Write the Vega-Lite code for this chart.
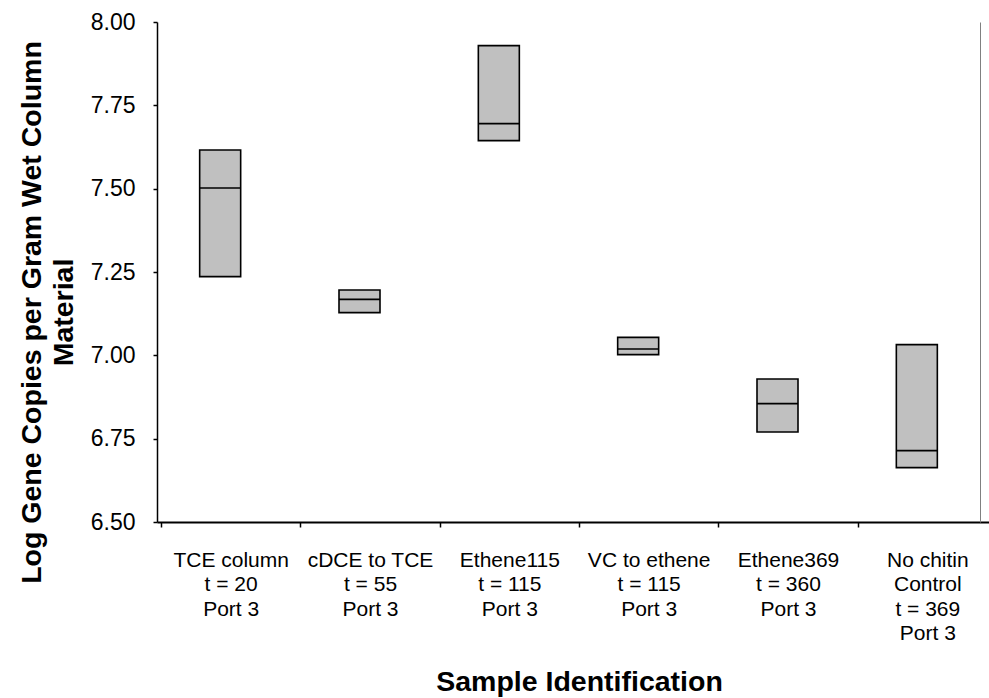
{
  "$schema": "https://vega.github.io/schema/vega-lite/v6.json",
  "autosize": {"type": "none"},
  "padding": {"left": 157, "top": 22, "right": 9, "bottom": 176},
  "width": 823,
  "height": 500,
  "background": "white",
  "config": {"view": {"stroke": null}, "font": "Liberation Sans"},
  "data": {
    "values": [
      {"sample": "TCE column|t = 20|Port 3", "low": 7.236, "median": 7.502, "high": 7.616},
      {"sample": "cDCE to TCE|t = 55|Port 3", "low": 7.128, "median": 7.168, "high": 7.196},
      {"sample": "Ethene115|t = 115|Port 3", "low": 7.644, "median": 7.695, "high": 7.929},
      {"sample": "VC to ethene|t = 115|Port 3", "low": 7.002, "median": 7.019, "high": 7.054},
      {"sample": "Ethene369|t = 360|Port 3", "low": 6.770, "median": 6.855, "high": 6.929},
      {"sample": "No chitin|Control|t = 369|Port 3", "low": 6.663, "median": 6.714, "high": 7.032}
    ]
  },
  "layer": [
    {
      "mark": {"type": "bar", "fill": "#c0c0c0", "stroke": "black", "strokeWidth": 1.6, "width": 41, "xOffset": -10.5},
      "encoding": {
        "x": {
          "field": "sample", "type": "nominal", "sort": null,
          "scale": {"range": [0, 844], "paddingInner": 0, "paddingOuter": 0.0287},
          "axis": {
            "tickBand": "extent",
            "labelExpr": "split(datum.label, '|')",
            "labelFont": "Liberation Sans",
            "labelFontSize": 21,
            "labelLineHeight": 24.5,
            "labelPadding": 22,
            "labelAngle": 0,
            "labelBaseline": "top",
            "labelColor": "black",
            "tickSize": 5,
            "tickColor": "black",
            "tickWidth": 1.5,
            "domainColor": "black",
            "domainWidth": 2,
            "grid": false,
            "title": "Sample Identification",
            "titleFont": "Liberation Sans",
            "titleFontSize": 28.5,
            "titleFontWeight": "bold",
            "titleColor": "black",
            "titleY": 168,
            "titleBaseline": "alphabetic"
          }
        },
        "y": {
          "field": "low", "type": "quantitative",
          "scale": {"domain": [6.5, 8], "nice": false, "zero": false},
          "axis": {
            "values": [6.5, 6.75, 7, 7.25, 7.5, 7.75, 8],
            "format": ".2f",
            "labelFont": "Liberation Sans",
            "labelFontSize": 23,
            "labelColor": "black",
            "labelPadding": 18,
            "tickSize": 4,
            "tickColor": "black",
            "tickWidth": 1.5,
            "domainColor": "black",
            "domainWidth": 1.5,
            "grid": false,
            "title": ["Log Gene Copies per Gram Wet Column", "Material"],
            "titleFont": "Liberation Sans",
            "titleFontSize": 28.5,
            "titleFontWeight": "bold",
            "titleColor": "black",
            "titleX": -117,
            "titleY": 290,
            "titleAngle": -90,
            "titleAlign": "center",
            "titleBaseline": "alphabetic",
            "titleLineHeight": 32
          }
        },
        "y2": {"field": "high"}
      }
    },
    {
      "mark": {"type": "tick", "color": "black", "thickness": 1.6, "size": 41, "xOffset": -10.5, "opacity": 1},
      "encoding": {
        "x": {"field": "sample", "type": "nominal", "sort": null},
        "y": {"field": "median", "type": "quantitative", "axis": null}
      }
    },
    {
      "mark": {"type": "point", "opacity": 0},
      "encoding": {
        "x": {"field": "sample", "type": "nominal", "sort": null},
        "y": {
          "field": "median", "type": "quantitative",
          "axis": {"orient": "right", "ticks": false, "labels": false, "title": null, "grid": false, "domainColor": "#808080", "domainWidth": 1}
        }
      }
    }
  ],
  "resolve": {"axis": {"y": "independent"}}
}
